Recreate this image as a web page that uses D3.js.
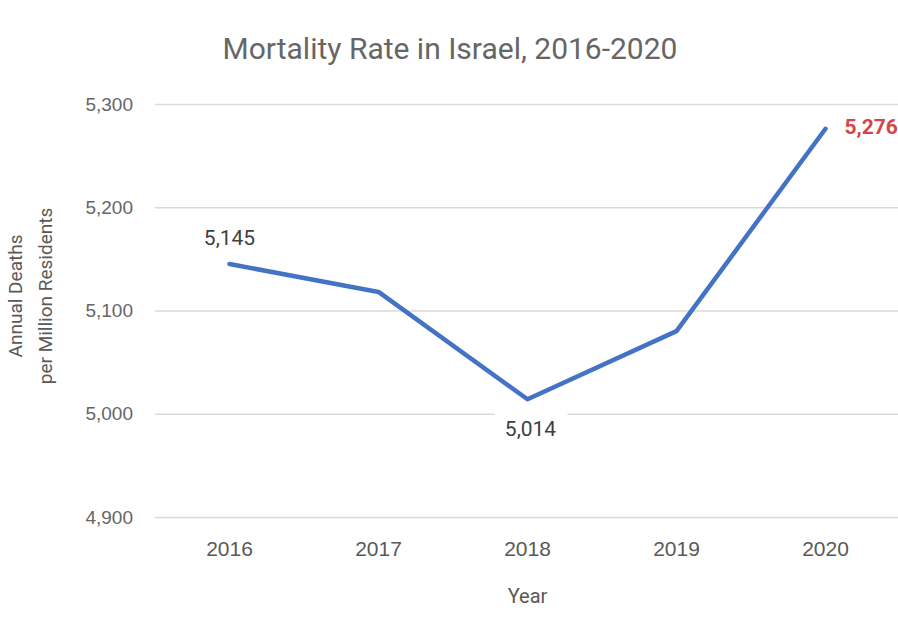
<!DOCTYPE html>
<html>
<head>
<meta charset="utf-8">
<script src="https://cdn.jsdelivr.net/npm/d3@7"></script>
<style>
  body { margin: 0; background: #fff; }
  svg { font-family: Roboto, sans-serif; display: block; }
</style>
</head>
<body>
<div id="chart-area"></div>
<script>
const years = ['2016', '2017', '2018', '2019', '2020']
const deaths = [5145, 5118, 5014, 5080, 5276]
const yTicks = [4900, 5000, 5100, 5200, 5300]
const labelled = { '2016': 'above', '2018': 'below', '2020': 'right' }

const W = 898, H = 628
const margin = { left: 155, right: -2, top: 104, bottom: 111 }
const width = W - margin.left - margin.right
const height = H - margin.top - margin.bottom

const svg = d3.select('#chart-area')
              .append('svg')
              .attr('width', W)
              .attr('height', H)

const g = svg.append('g')
             .attr('transform', 'translate(' + margin.left + ', ' + margin.top + ')')

// X Scale
const x = d3.scaleBand()
            .domain(years)
            .range([0, width])

// Y Scale
const y = d3.scaleLinear()
            .domain([4900, 5300])
            .range([height, 0])

const fmt = d3.format(',')

// Gridlines + Y axis labels
const yAxis = d3.axisLeft(y)
                .tickValues(yTicks)
                .tickSize(-width)
                .tickPadding(22)
                .tickFormat(fmt)
g.append('g')
 .attr('class', 'y-axis')
 .call(yAxis)
 .call(s => s.select('.domain').remove())
 .call(s => s.selectAll('.tick line').attr('stroke', '#d9d9d9').attr('stroke-width', 1.3))
 .call(s => s.selectAll('.tick text').attr('fill', '#666').attr('font-size', '19px'))

// X axis labels
const xAxis = d3.axisBottom(x).tickSize(0).tickPadding(24)
g.append('g')
 .attr('class', 'x-axis')
 .attr('transform', 'translate(0,' + height + ')')
 .call(xAxis)
 .call(s => s.select('.domain').remove())
 .call(s => s.selectAll('.tick text').attr('fill', '#595959').attr('font-size', '21px'))

// Line
const line = d3.line()
               .x((d, i) => x(years[i]) + x.bandwidth() / 2)
               .y(d => y(d))
g.append('path')
 .datum(deaths)
 .attr('fill', 'none')
 .attr('stroke', '#4472c4')
 .attr('stroke-width', 4.5)
 .attr('stroke-linejoin', 'round')
 .attr('stroke-linecap', 'round')
 .attr('d', line)

// Data labels
years.forEach((yr, i) => {
    const pos = labelled[yr]
    if (!pos) return
    const cx = x(yr) + x.bandwidth() / 2
    const cy = y(deaths[i])
    if (pos === 'above') {
        g.append('text')
         .attr('x', cx).attr('y', cy - 19)
         .attr('text-anchor', 'middle')
         .attr('font-size', '21px').attr('fill', '#404040')
         .text(fmt(deaths[i]))
    } else if (pos === 'below') {
        g.append('rect')
         .attr('x', cx - 33).attr('y', cy + 10)
         .attr('width', 73).attr('height', 32)
         .attr('fill', '#fff')
        g.append('text')
         .attr('x', cx + 3).attr('y', cy + 37)
         .attr('text-anchor', 'middle')
         .attr('font-size', '21px').attr('fill', '#404040')
         .text(fmt(deaths[i]))
    } else {
        g.append('text')
         .attr('x', cx + 19).attr('y', cy + 5)
         .attr('font-size', '21px').attr('font-weight', 'bold')
         .attr('fill', '#d64545')
         .text(fmt(deaths[i]))
    }
})

// Title
svg.append('text')
   .attr('x', 450).attr('y', 59)
   .attr('text-anchor', 'middle')
   .attr('font-size', '30px').attr('fill', '#666')
   .text('Mortality Rate in Israel, 2016-2020')

// X Label
svg.append('text')
   .attr('x', margin.left + x('2018') + x.bandwidth() / 2)
   .attr('y', 603)
   .attr('text-anchor', 'middle')
   .attr('font-size', '20px').attr('fill', '#595959')
   .text('Year')

// Y Label
const yLabel = svg.append('text')
                  .attr('transform', 'translate(22, 296) rotate(-90)')
                  .attr('text-anchor', 'middle')
                  .attr('font-size', '19px').attr('fill', '#595959')
yLabel.append('tspan').attr('x', 0).attr('dy', 0).text('Annual Deaths')
yLabel.append('tspan').attr('x', 0).attr('dy', 30).text('per Million Residents')
</script>
</body>
</html>
